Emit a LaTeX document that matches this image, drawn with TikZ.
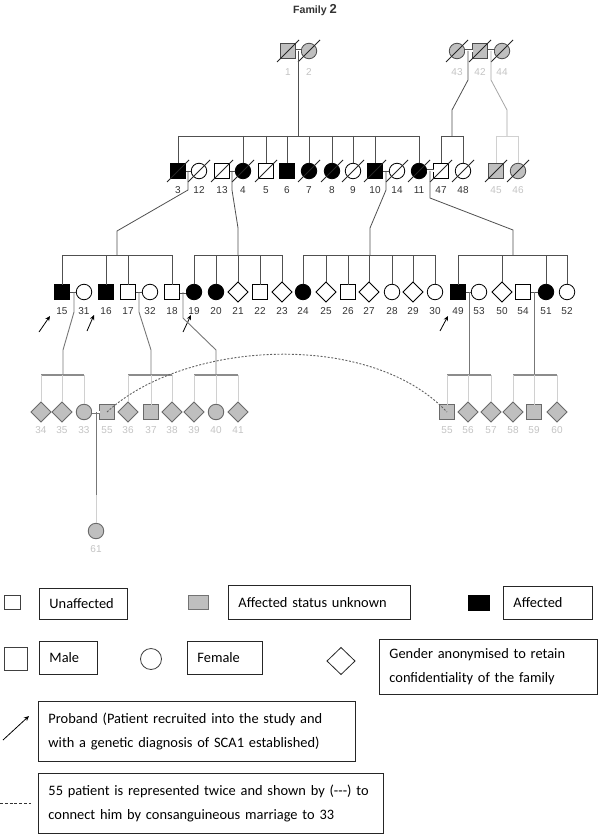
\documentclass[tikz,border=0pt]{standalone}
\usepackage{fontspec}
\setmainfont{Liberation Sans}
\newfontfamily\calfont{Carlito}
\usetikzlibrary{shapes.geometric,calc,arrows.meta}
\definecolor{linec}{HTML}{505050}
\definecolor{unkfill}{HTML}{BFBFBF}
\definecolor{lightlbl}{HTML}{C4C4C4}
\definecolor{darklbl}{HTML}{333333}
\definecolor{gfourline}{HTML}{D0D0D0}
\definecolor{gfoursib}{HTML}{8C8C8C}
\definecolor{gfouredge}{HTML}{6A6A6A}
\definecolor{gfourdesc}{HTML}{777777}
\definecolor{gone}{HTML}{4A4A4A}
\tikzset{
  base/.style={draw=black, line width=0.8pt, inner sep=0pt, outer sep=0pt},
  sqr/.style={base, rectangle, minimum size=15pt},
  cir/.style={base, circle, minimum size=15.5pt},
  dia/.style={base, diamond, minimum width=20pt, minimum height=20pt},
  aff/.style={fill=black},
  unaf/.style={fill=white},
  unk/.style={fill=unkfill, draw=gone},
  unkiv/.style={fill=unkfill, draw=gfouredge, line width=0.9pt},
  lin/.style={draw=linec, line width=0.8pt},
  linlight/.style={draw=gfourline, line width=0.8pt},
  dbl/.style={draw=linec, line width=0.7pt, double=white, double distance=1.6pt},
  slashln/.style={draw=black!85, line width=0.8pt},
  lbld/.style={text=darklbl, font=\fontsize{10}{12}\selectfont, inner sep=0pt},
  lbll/.style={text=lightlbl, font=\fontsize{10}{12}\selectfont, inner sep=0pt},
  sibiv/.style={draw=gfoursib, line width=1.5pt},
  desciv/.style={draw=gfourdesc, line width=0.9pt},
  prob/.style={draw=black, line width=0.8pt, -{Stealth[length=5pt,width=4.5pt]}},
  dashcurve/.style={draw=linec!90, line width=0.9pt, dash pattern=on 2pt off 1.6pt},
  lgbox/.style={draw=black!85, line width=0.9pt, inner xsep=10pt, inner ysep=0pt, font=\calfont\fontsize{14.4}{24}\selectfont, align=left, anchor=north west},
}
\def\lofs{19}
\newcommand\indv[7]{\node[#2,#5] (#1) at (#3,#4) {}; \node[#7] (#1l) at (#3,#4+\lofs) {#6};}
\newcommand\deadx[1]{\draw[slashln] ($(#1)+(-11,11)$) -- ($(#1)+(11,-11)$);}
\begin{document}
\begin{tikzpicture}[x=1pt,y=-1pt]
\useasboundingbox (0,0) rectangle (600,837);
\fill[white] (0,0) rectangle (600,837);

% title
\node[anchor=base west, inner sep=0pt, text=darklbl, font=\bfseries\fontsize{10.6}{12}\selectfont] (title) at (293,14) {Family {\fontsize{13}{14}\selectfont 2}};

% ---------------- Generation I
\def\lofs{21}
\indv{p1}{sqr}{288}{51}{unk}{1}{lbll}
\indv{p2}{cir}{309}{51}{unk}{2}{lbll}
\indv{p43}{cir}{457}{51}{unk}{43}{lbll}
\indv{p42}{sqr}{480}{51}{unk}{42}{lbll}
\indv{p44}{cir}{502}{51}{unk}{44}{lbll}
\deadx{p1}\deadx{p2}\deadx{p43}\deadx{p42}\deadx{p44}
\draw[dbl] (p1.east) -- (p2.west);
\draw[dbl] (p43.east) -- (p42.west);
\draw[dbl] (p42.east) -- (p44.west);

% ---------------- Generation II
\def\lofs{19}
\indv{p3}{sqr}{178}{171}{aff}{3}{lbld}
\indv{p12}{cir}{199}{171}{unaf}{12}{lbld}
\indv{p13}{sqr}{222}{171}{unaf}{13}{lbld}
\indv{p4}{cir}{243}{171}{aff}{4}{lbld}
\indv{p5}{sqr}{266}{171}{unaf}{5}{lbld}
\indv{p6}{sqr}{287}{171}{aff}{6}{lbld}
\indv{p7}{cir}{309}{171}{aff}{7}{lbld}
\indv{p8}{cir}{332}{171}{aff}{8}{lbld}
\indv{p9}{cir}{353}{171}{unaf}{9}{lbld}
\indv{p10}{sqr}{375}{171}{aff}{10}{lbld}
\indv{p14}{cir}{397}{171}{unaf}{14}{lbld}
\indv{p11}{cir}{419}{171}{aff}{11}{lbld}
\indv{p47}{sqr}{441}{171}{unaf}{47}{lbld}
\indv{p48}{cir}{463}{171}{unaf}{48}{lbld}
\indv{p45}{sqr}{496}{171}{unk}{45}{lbll}
\indv{p46}{cir}{518}{171}{unk}{46}{lbll}
\deadx{p3}\deadx{p12}\deadx{p13}\deadx{p4}\deadx{p5}\deadx{p7}\deadx{p8}\deadx{p9}
\deadx{p10}\deadx{p14}\deadx{p11}\deadx{p47}\deadx{p48}\deadx{p45}\deadx{p46}

% descent 1-2 and sibship
\coordinate (m12) at (298,51);
\coordinate (s2L) at (178,136);
\coordinate (s2R) at (419,136);
\draw[lin] (m12) -- (m12 |- s2L);
\draw[lin] (s2L) -- (s2R);
\foreach \c in {p3,p4,p5,p6,p7,p8,p9,p10,p11}{\draw[lin] (\c |- s2L) -- (\c.north);}

% descent 43-42
\coordinate (m4342) at (468,51);
\coordinate (s47L) at (441,136);
\coordinate (s47R) at (463,136);
\draw[lin] (m4342) -- (468,80) -- (452,110) -- (452,136);
\draw[lin] (s47L) -- (s47R);
\draw[lin] (p47 |- s47L) -- (p47.north);
\draw[lin] (p48 |- s47L) -- (p48.north);
% descent 42-44
\coordinate (m4244) at (491,51);
\coordinate (s45L) at (496,136);
\coordinate (s45R) at (518,136);
\draw[lin, draw=black!35] (m4244) -- (491,80) -- (507,110) -- (507,136);
\draw[linlight] (s45L) -- (s45R);
\draw[linlight] (p45 |- s45L) -- (p45.north);
\draw[linlight] (p46 |- s45L) -- (p46.north);

% marriages gen II
\draw[lin] (p3.east) -- (p12.west);
\draw[lin] (p13.east) -- (p4.west);
\draw[lin] (p10.east) -- (p14.west);
\draw[dbl] (p11.east) -- (p47.west);

% ---------------- Generation III
\indv{p15}{sqr}{62}{292}{aff}{15}{lbld}
\indv{p31}{cir}{84}{292}{unaf}{31}{lbld}
\indv{p16}{sqr}{106}{292}{aff}{16}{lbld}
\indv{p17}{sqr}{128}{292}{unaf}{17}{lbld}
\indv{p32}{cir}{150}{292}{unaf}{32}{lbld}
\indv{p18}{sqr}{172}{292}{unaf}{18}{lbld}
\indv{p19}{cir}{194}{292}{aff}{19}{lbld}
\indv{p20}{cir}{216}{292}{aff}{20}{lbld}
\indv{p21}{dia}{238}{292}{unaf}{21}{lbld}
\indv{p22}{sqr}{260}{292}{unaf}{22}{lbld}
\indv{p23}{dia}{282}{292}{unaf}{23}{lbld}
\indv{p24}{cir}{303}{292}{aff}{24}{lbld}
\indv{p25}{dia}{326}{292}{unaf}{25}{lbld}
\indv{p26}{sqr}{348}{292}{unaf}{26}{lbld}
\indv{p27}{dia}{369}{292}{unaf}{27}{lbld}
\indv{p28}{cir}{392}{292}{unaf}{28}{lbld}
\indv{p29}{dia}{413}{292}{unaf}{29}{lbld}
\indv{p30}{cir}{435}{292}{unaf}{30}{lbld}
\indv{p49}{sqr}{458}{292}{aff}{49}{lbld}
\indv{p53}{cir}{479}{292}{unaf}{53}{lbld}
\indv{p50}{dia}{502}{292}{unaf}{50}{lbld}
\indv{p54}{sqr}{523}{292}{unaf}{54}{lbld}
\indv{p51}{cir}{546}{292}{aff}{51}{lbld}
\indv{p52}{cir}{567}{292}{unaf}{52}{lbld}

% descent 3-12
\coordinate (m312) at (188,171);
\coordinate (s3L) at (62,255);
\coordinate (s3R) at (172,255);
\draw[lin] (m312) -- (188,190) -- (117,231) -- (117,255);
\draw[lin] (s3L) -- (s3R);
\foreach \c in {p15,p16,p17,p18}{\draw[lin] (\c |- s3L) -- (\c.north);}
% descent 13-4
\coordinate (m134) at (232,171);
\coordinate (s4L) at (194,255);
\coordinate (s4R) at (282,255);
\draw[lin] (m134) -- (232,190) -- (238,228) -- (238,255);
\draw[lin] (s4L) -- (s4R);
\foreach \c in {p19,p20,p21,p22,p23}{\draw[lin] (\c |- s4L) -- (\c.north);}
% descent 10-14
\coordinate (m1014) at (386,171);
\coordinate (s10L) at (303,255);
\coordinate (s10R) at (435,255);
\draw[lin] (m1014) -- (386,190) -- (370,228) -- (370,255);
\draw[lin] (s10L) -- (s10R);
\foreach \c in {p24,p25,p26,p27,p28,p29,p30}{\draw[lin] (\c |- s10L) -- (\c.north);}
% descent 11-47
\coordinate (m1147) at (430,171);
\coordinate (s11L) at (458,255);
\coordinate (s11R) at (567,255);
\draw[lin] (m1147) -- (430,198) -- (513,230) -- (513,255);
\draw[lin] (s11L) -- (s11R);
\foreach \c in {p49,p50,p51,p52}{\draw[lin] (\c |- s11L) -- (\c.north);}

% marriages gen III
\draw[lin] (p15.east) -- (p31.west);
\draw[lin] (p17.east) -- (p32.west);
\draw[dbl] (p18.east) -- (p19.west);
\draw[lin] (p49.east) -- (p53.west);
\draw[lin] (p54.east) -- (p51.west);

% proband arrows
\draw[prob] ($(p15)+(-23,40)$) -- ($(p15)+(-12,24)$);
\draw[prob] ($(p16)+(-19,39)$) -- ($(p16)+(-12,23)$);
\draw[prob] ($(p19)+(-11,40)$) -- ($(p19)+(-3,23)$);
\draw[prob] ($(p49)+(-18,39)$) -- ($(p49)+(-10,24)$);

% ---------------- Generation IV
\def\lofs{18}
\indv{p34}{dia}{41}{412}{unkiv}{34}{lbll}
\indv{p35}{dia}{62}{412}{unkiv}{35}{lbll}
\indv{p33}{cir}{84}{412}{unkiv}{33}{lbll}
\indv{p55a}{sqr}{107}{412}{unkiv}{55}{lbll}
\indv{p36}{dia}{128}{412}{unkiv}{36}{lbll}
\indv{p37}{sqr}{151}{412}{unkiv}{37}{lbll}
\indv{p38}{dia}{172}{412}{unkiv}{38}{lbll}
\indv{p39}{dia}{194}{412}{unkiv}{39}{lbll}
\indv{p40}{cir}{216}{412}{unkiv}{40}{lbll}
\indv{p41}{dia}{238}{412}{unkiv}{41}{lbll}
\indv{p55b}{sqr}{447}{412}{unkiv}{55}{lbll}
\indv{p56}{dia}{468}{412}{unkiv}{56}{lbll}
\indv{p57}{dia}{491}{412}{unkiv}{57}{lbll}
\indv{p58}{dia}{513}{412}{unkiv}{58}{lbll}
\indv{p59}{sqr}{534}{412}{unkiv}{59}{lbll}
\indv{p60}{dia}{557}{412}{unkiv}{60}{lbll}
\indv{p61}{cir}{96}{531}{unkiv}{61}{lbll}

% descent 15-31
\coordinate (m1531) at (74,292);
\coordinate (s15L) at (41,375);
\coordinate (s15R) at (84,375);
\draw[desciv] (m1531) -- (74,312) -- (63,350) -- (63,375);
\draw[sibiv] (s15L) -- (s15R);
\foreach \c in {p34,p35,p33}{\draw[linlight] (\c |- s15L) -- (\c.north);}
% descent 17-32
\coordinate (m1732) at (139,292);
\coordinate (s17L) at (128,375);
\coordinate (s17R) at (172,375);
\draw[desciv] (m1732) -- (139,312) -- (151,350) -- (151,375);
\draw[sibiv] (s17L) -- (s17R);
\foreach \c in {p36,p37,p38}{\draw[linlight] (\c |- s17L) -- (\c.north);}
% descent 18-19
\coordinate (m1819) at (183,292);
\coordinate (s18L) at (194,375);
\coordinate (s18R) at (238,375);
\draw[desciv] (m1819) -- (183,318) -- (216,350) -- (216,375);
\draw[sibiv] (s18L) -- (s18R);
\foreach \c in {p39,p40,p41}{\draw[linlight] (\c |- s18L) -- (\c.north);}
% descent 49-53
\coordinate (m4953) at (469,292);
\coordinate (s49L) at (447,375);
\coordinate (s49R) at (491,375);
\draw[desciv] (m4953) -- (469,375);
\draw[sibiv] (s49L) -- (s49R);
\foreach \c in {p55b,p56,p57}{\draw[linlight] (\c |- s49L) -- (\c.north);}
% descent 54-51
\coordinate (m5451) at (534,292);
\coordinate (s54L) at (513,375);
\coordinate (s54R) at (557,375);
\draw[desciv] (m5451) -- (534,375);
\draw[sibiv] (s54L) -- (s54R);
\foreach \c in {p58,p59,p60}{\draw[linlight] (\c |- s54L) -- (\c.north);}

% marriage 33-55 and child 61
\draw[dbl, draw=gfourdesc] (p33.east) -- (p55a.west);
\coordinate (m3355) at (96,412);
\coordinate (m3355b) at (96,495);
\draw[desciv] (m3355) -- (m3355b);
\draw[linlight] (m3355b) -- (p61.north);

% dashed consanguinity curve
\draw[dashcurve] (p55a.center) .. controls (185,340) and (370,330) .. (p55b.center);

% ---------------- Legend
\node[base, rectangle, draw=black!75, minimum width=16pt, minimum height=14pt] (lgU) at (12,602) {};
\node[lgbox, text width=68pt, minimum height=31pt] (lgUt) at (39,588) {Unaffected};
\node[base, rectangle, fill=unkfill, draw=black!55, minimum width=20pt, minimum height=14pt] (lgG) at (198,602) {};
\node[lgbox, text width=162pt, minimum height=34pt] (lgGt) at (228,585) {Affected status unknown};
\node[base, rectangle, fill=black, minimum width=21pt, minimum height=15pt] (lgA) at (478.5,602.5) {};
\node[lgbox, text width=69pt, minimum height=33pt] (lgAt) at (503,586) {Affected};

\node[base, rectangle, draw=black!75, minimum width=23pt, minimum height=23pt] (lgM) at (16,659) {};
\node[lgbox, text width=38pt, minimum height=33pt] (lgMt) at (39,641) {Male};
\node[base, circle, draw=black!75, minimum size=21pt] (lgF) at (151,659) {};
\node[lgbox, text width=55pt, minimum height=33pt] (lgFt) at (187,641) {Female};
\node[base, diamond, draw=black!85, minimum width=28pt, minimum height=27pt] (lgD) at (341,661) {};
\node[lgbox, text width=198pt, minimum height=55pt] (lgDt) at (379,639) {Gender anonymised to retain\\confidentiality of the family};

\coordinate (lgArS) at (3,740);
\coordinate (lgArE) at (29,716);
\draw[prob] (lgArS) -- (lgArE);
\node[lgbox, text width=297pt, minimum height=60pt] (lgPt) at (38,701) {Proband (Patient recruited into the study and\\with a genetic diagnosis of SCA1 established)};

\coordinate (lgDsS) at (0,803);
\coordinate (lgDsE) at (31,803);
\draw[draw=black!80, line width=0.8pt, dash pattern=on 3pt off 1.8pt] (lgDsS) -- (lgDsE);
\node[lgbox, text width=325pt, minimum height=60pt] (lg55t) at (38,773) {55 patient is represented twice and shown by (-{}-{}-) to\\connect him by consanguineous marriage to 33};
\end{tikzpicture}
\end{document}
